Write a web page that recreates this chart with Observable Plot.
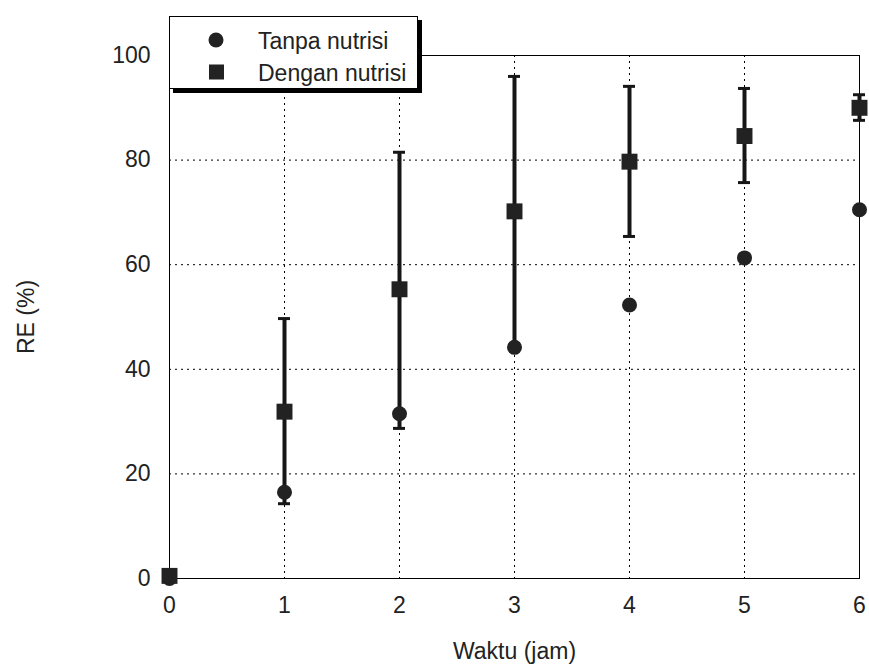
<!DOCTYPE html>
<html>
<head>
<meta charset="utf-8">
<script src="https://cdn.jsdelivr.net/npm/d3@7"></script>
<script src="https://cdn.jsdelivr.net/npm/@observablehq/plot@0.6"></script>
<style>
  body { margin: 0; background: #fff; font-family: "Liberation Sans", Arial, sans-serif; }
  #wrap { position: relative; width: 869px; height: 668px; }
  #legend {
    position: absolute; left: 169px; top: 16px; width: 249px; height: 73px;
    border: 1.5px solid #000; background: #fff; box-shadow: 4px 4px 0 #000;
    box-sizing: border-box;
  }
  #legend svg { position: absolute; left: 0; top: 0; }
</style>
</head>
<body>
<div id="wrap"></div>
<script>
// Waktu (jam) and removal efficiency RE (%)
const waktu = [0, 1, 2, 3, 4, 5, 6];
const tanpaNutrisi = [0, 16.5, 31.5, 44.2, 52.3, 61.3, 70.5];
const denganNutrisi = [0.5, 31.9, 55.3, 70.2, 79.7, 84.6, 90.0];
// error bar extents per time point
const errLow = [null, 14.3, 28.7, 44.2, 65.4, 75.7, 87.6];
const errHigh = [null, 49.7, 81.5, 96.0, 94.1, 93.7, 92.5];
const xTicks = [0, 1, 2, 3, 4, 5, 6];
const yTicks = [0, 20, 40, 60, 80, 100];
const seriesNames = ["Tanpa nutrisi", "Dengan nutrisi"];

const rows = waktu.map((t, i) => ({
  t, tanpa: tanpaNutrisi[i], dengan: denganNutrisi[i], lo: errLow[i], hi: errHigh[i]
}));
const errRows = rows.filter(d => d.lo != null);
const capHalf = 0.052;
const ink = "#222";
const barInk = "#161616";

const chart = Plot.plot({
  width: 869,
  height: 668,
  marginLeft: 169,
  marginRight: 10,
  marginTop: 55,
  marginBottom: 90,
  style: { fontFamily: "Liberation Sans, Arial, sans-serif", fontSize: "23px", color: ink, background: "transparent", overflow: "visible" },
  x: { domain: [0, 6] },
  y: { domain: [0, 100] },
  marks: [
    Plot.gridX(xTicks, { stroke: "#000", strokeOpacity: 1, strokeWidth: 1, strokeDasharray: "2,4" }),
    Plot.gridY(yTicks, { stroke: "#000", strokeOpacity: 1, strokeWidth: 1, strokeDasharray: "2,4" }),
    Plot.frame({ stroke: "#000", strokeWidth: 1 }),
    Plot.axisX(xTicks, { tickSize: 0, tickPadding: 18, fontSize: 23, label: "Waktu (jam)", labelAnchor: "center", labelArrow: "none", labelOffset: 80, tickFormat: d => String(d) }),
    Plot.axisY(yTicks, { tickSize: 0, tickPadding: 19, fontSize: 23, label: "RE (%)", labelAnchor: "center", labelOffset: 152, labelArrow: "none", tickFormat: d => String(d) }),
    Plot.ruleX(errRows, { x: "t", y1: "lo", y2: "hi", stroke: barInk, strokeWidth: 4 }),
    Plot.ruleY(errRows, { y: "hi", x1: d => d.t - capHalf, x2: d => d.t + capHalf, stroke: barInk, strokeWidth: 3 }),
    Plot.ruleY(errRows, { y: "lo", x1: d => d.t - capHalf, x2: d => d.t + capHalf, stroke: barInk, strokeWidth: 3 }),
    Plot.dot(rows, { x: "t", y: "tanpa", r: 7.5, fill: ink, stroke: "none", symbol: "circle" }),
    Plot.dot(rows, { x: "t", y: "dengan", r: 9, fill: ink, stroke: "none", symbol: "square" })
  ]
});

const wrap = document.getElementById("wrap");
wrap.appendChild(chart);

// legend box overlapping the top-left corner of the frame
const legend = document.createElement("div");
legend.id = "legend";
const ns = "http://www.w3.org/2000/svg";
const lsvg = document.createElementNS(ns, "svg");
lsvg.setAttribute("width", 246);
lsvg.setAttribute("height", 70);
const rowY = [23, 55];
seriesNames.forEach((name, i) => {
  if (i === 0) {
    const c = document.createElementNS(ns, "circle");
    c.setAttribute("cx", 46); c.setAttribute("cy", rowY[i]); c.setAttribute("r", 7.5);
    c.setAttribute("fill", ink);
    lsvg.appendChild(c);
  } else {
    const r = document.createElementNS(ns, "rect");
    r.setAttribute("x", 39); r.setAttribute("y", rowY[i] - 7.5); r.setAttribute("width", 15); r.setAttribute("height", 15);
    r.setAttribute("fill", ink);
    lsvg.appendChild(r);
  }
  const t = document.createElementNS(ns, "text");
  t.setAttribute("x", 88); t.setAttribute("y", rowY[i] + 8.5);
  t.setAttribute("font-size", 23);
  t.setAttribute("fill", ink);
  t.setAttribute("font-family", "Liberation Sans, Arial, sans-serif");
  t.textContent = name;
  lsvg.appendChild(t);
});
legend.appendChild(lsvg);
wrap.appendChild(legend);
</script>
</body>
</html>
